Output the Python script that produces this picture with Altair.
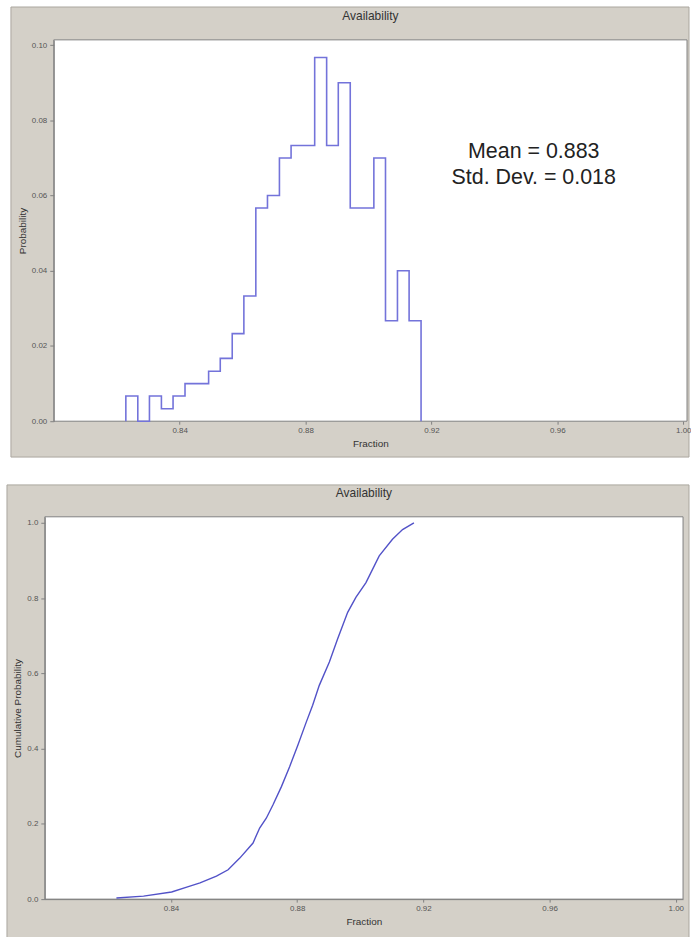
import altair as alt
import pandas as pd

# ---------------- data ----------------
bin_edges = [0.8229, 0.8267, 0.8304, 0.8342, 0.8379, 0.8417, 0.8454, 0.8492,
             0.8529, 0.8567, 0.8604, 0.8642, 0.8679, 0.8717, 0.8754, 0.8792,
             0.8829, 0.8867, 0.8904, 0.8942, 0.8979, 0.9017, 0.9054, 0.9092,
             0.9129, 0.9167]
bin_prob = [0.0067, 0.0000, 0.0067, 0.0033, 0.0067, 0.0100, 0.0100, 0.0133,
            0.0167, 0.0233, 0.0333, 0.0567, 0.0600, 0.0700, 0.0733, 0.0733,
            0.0967, 0.0733, 0.0900, 0.0567, 0.0567, 0.0700, 0.0267, 0.0400,
            0.0267]

cdf_x = [0.8227, 0.8313, 0.8402, 0.8450, 0.8492, 0.8544, 0.8581, 0.8618,
         0.8660, 0.8681, 0.8702, 0.8723, 0.8750, 0.8776, 0.8802, 0.8829,
         0.8849, 0.8870, 0.8902, 0.8928, 0.8960, 0.8986, 0.9018, 0.9060,
         0.9102, 0.9134, 0.9170]
cdf_y = [0.003, 0.008, 0.019, 0.032, 0.043, 0.061, 0.078, 0.109,
         0.149, 0.189, 0.215, 0.250, 0.299, 0.352, 0.409, 0.471,
         0.515, 0.568, 0.630, 0.691, 0.762, 0.802, 0.841, 0.912,
         0.956, 0.982, 1.000]

tick_x = [0.84, 0.88, 0.92, 0.96, 1.00]
tick_y_hist = [0.00, 0.02, 0.04, 0.06, 0.08, 0.10]
tick_y_cdf = [0.0, 0.2, 0.4, 0.6, 0.8, 1.0]
stats_text = ["Mean = 0.883", "Std. Dev. = 0.018"]
panel_title = "Availability"

# ---------------- styling ----------------
FONT = "Liberation Sans"
PANEL = "#d4d0c8"
EDGE = "#aaa69e"
AXIS = "#808080"
LABEL = "#555555"
HIST_COLOR = "#7373da"
CDF_COLOR = "#5252c8"

hist_rows = [{"x": bin_edges[0], "p": 0.0, "o": 0}]
for i, p in enumerate(bin_prob):
    hist_rows.append({"x": bin_edges[i], "p": p, "o": i + 1})
hist_rows.append({"x": bin_edges[-1], "p": 0.0, "o": len(bin_prob) + 1})
hist_df = pd.DataFrame(hist_rows)

cdf_df = pd.DataFrame({"x": cdf_x, "c": cdf_y, "o": list(range(len(cdf_x)))})
stats_df = pd.DataFrame({"x": [0.9525, 0.9525], "p": [0.0715, 0.0646], "t": stats_text})


def axis_x(domain=True):
    return alt.Axis(values=tick_x, format=".2f", title="Fraction", grid=False,
                    domain=domain,
                    labelFontSize=8, labelColor=LABEL, labelPadding=2,
                    tickSize=3, tickColor=AXIS, domainColor=AXIS,
                    titleFontSize=10, titleFontWeight="normal", titleColor="#333333",
                    titlePadding=4, zindex=1, labelFont=FONT, titleFont=FONT)


def axis_y(vals, fmt, title, offset=0):
    return alt.Axis(values=vals, format=fmt, title=title, grid=False, offset=offset,
                    labelFontSize=8, labelColor=LABEL, labelPadding=3,
                    tickSize=4, tickColor=AXIS, domainColor=AXIS,
                    titleFontSize=10, titleFontWeight="normal", titleColor="#333333",
                    titlePadding=4, zindex=1, labelFont=FONT, titleFont=FONT)


def rect(fill, x1, x2, y1, y2, stroke=None):
    kw = {"fill": fill, "strokeWidth": 1}
    if stroke:
        kw["stroke"] = stroke
    else:
        kw["strokeWidth"] = 0
    return alt.Chart(alt.Data(values=[{}])).mark_rect(**kw).encode(
        x=alt.value(x1), x2=alt.value(x2), y=alt.value(y1), y2=alt.value(y2))


def title_mark(xc, y):
    return alt.Chart(alt.Data(values=[{"t": panel_title}])).mark_text(
        font=FONT, fontSize=12, color="#333333", align="center", baseline="middle"
    ).encode(x=alt.value(xc), y=alt.value(y), text="t:N")


# ---------------- top panel: histogram ----------------
# view spans 645 px; the plot rectangle starts 9 px inside it
W1, H1, IN1 = 645, 383, 9
xs1 = alt.Scale(domain=[0.80, 1.0012], nice=False, zero=False, range=[IN1, W1])
ys1 = alt.Scale(domain=[0.0, 0.1014], nice=False)

hist_line = alt.Chart(hist_df).mark_line(
    interpolate="step-after", color=HIST_COLOR, strokeWidth=1.6
).encode(
    x=alt.X("x:Q", scale=xs1, axis=axis_x(domain=False)),
    y=alt.Y("p:Q", scale=ys1,
            axis=axis_y(tick_y_hist, ".2f", "Probability", offset=-IN1)),
    order="o:Q",
)
stats = alt.Chart(stats_df).mark_text(
    font=FONT, fontSize=21.5, color="#222222", align="center", baseline="middle"
).encode(x=alt.X("x:Q", scale=xs1), y=alt.Y("p:Q", scale=ys1), text="t:N")

top = alt.layer(
    rect(PANEL, -34, 647, -33, 419, stroke=EDGE),
    rect("white", IN1, W1, 0, H1, stroke=AXIS),
    hist_line,
    stats,
    title_mark((IN1 + W1) / 2, -24),
).properties(width=W1, height=H1)

# ---------------- bottom panel: cumulative ----------------
W2, H2 = 641, 384
xs2 = alt.Scale(domain=[0.80, 1.0023], nice=False, zero=False)
ys2 = alt.Scale(domain=[0.0, 1.0159], nice=False)

cdf_line = alt.Chart(cdf_df).mark_line(color=CDF_COLOR, strokeWidth=1.4).encode(
    x=alt.X("x:Q", scale=xs2, axis=axis_x()),
    y=alt.Y("c:Q", scale=ys2, axis=axis_y(tick_y_cdf, ".1f", "Cumulative Probability")),
    order="o:Q",
)

bottom = alt.layer(
    rect(PANEL, -38, 647, -32, 423, stroke=EDGE),
    rect("white", 0, W2, 0, H2, stroke=AXIS),
    cdf_line,
    title_mark(W2 / 2, -24),
).properties(width=W2, height=H2)

chart = alt.vconcat(top, bottom, spacing=26).properties(
    padding={"left": 6, "top": 4, "right": 0, "bottom": 0},
).configure(background="white", font=FONT).configure_view(
    strokeWidth=0
)

chart.save("out.html", embed_options={"renderer": "svg", "actions": False})
